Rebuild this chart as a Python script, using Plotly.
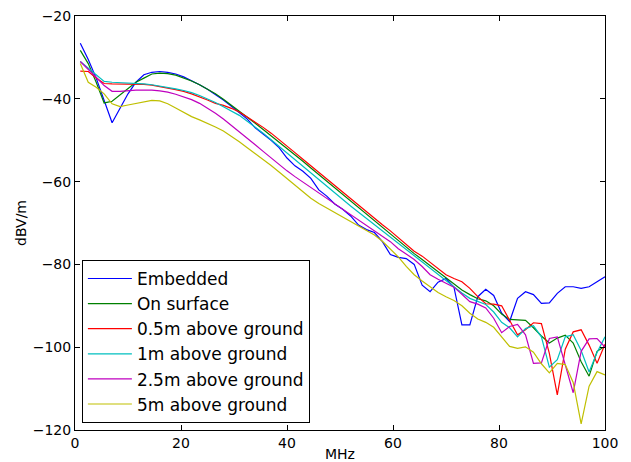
import plotly.graph_objects as go

# frequency axis (MHz)
freq = [1, 2.5, 4, 5.5, 7, 8.5, 10, 11.5, 13, 14.5,
        16, 17.5, 19, 20.5, 22, 23.5, 25, 26.5, 28, 29.5,
        31, 32.5, 34, 35.5, 37, 38.5, 40, 41.5, 43, 44.5,
        46, 47.5, 49, 50.5, 52, 53.5, 55, 56.5, 58, 59.5,
        61, 62.5, 64, 65.5, 67, 68.5, 70, 71.5, 73, 74.5,
        76, 77.5, 79, 80.5, 82, 83.5, 85, 86.5, 88, 89.5,
        91, 92.5, 94, 95.5, 97, 98.5, 100]

embedded = [-26.6, -30.5, -35.0, -40.5, -45.8, -42.3, -38.8, -36.0, -34.2, -33.6,
            -33.4, -33.6, -34.0, -34.7, -35.6, -36.6, -37.7, -38.9, -40.3, -41.8,
            -43.3, -44.9, -47.0, -48.5, -50.0, -51.8, -54.3, -56.2, -57.5, -59.2,
            -62.0, -63.5, -65.4, -66.7, -68.3, -70.5, -71.6, -72.3, -74.5, -77.6,
            -78.3, -78.6, -80.0, -85.0, -86.6, -84.3, -83.4, -85.5, -94.6, -94.6,
            -87.8, -86.0, -87.5, -91.8, -93.8, -88.2, -86.6, -87.3, -89.4, -89.3,
            -87.0, -85.4, -85.4, -85.8, -85.4, -84.2, -83.0]

on_surface = [-28.3, -31.5, -36.0, -41.0, -40.6, -39.1, -37.5, -36.0, -35.0, -34.0,
              -33.8, -33.9, -34.3, -35.0, -35.7, -36.6, -37.6, -38.8, -40.1, -41.5,
              -42.9, -44.4, -45.9, -47.4, -48.9, -50.4, -51.9, -53.5, -55.1, -56.7,
              -58.3, -59.9, -61.5, -63.1, -64.7, -66.3, -67.9, -69.5, -71.1, -72.7,
              -74.3, -75.9, -77.4, -78.8, -80.3, -81.8, -83.3, -84.8, -86.2, -87.3,
              -88.3, -88.8, -90.0, -92.0, -93.3, -93.4, -93.5, -95.3, -97.3, -99.0,
              -97.8, -97.1, -99.0, -103.5, -107.0, -101.0, -99.8]

above_05m = [-33.3, -33.4, -35.0, -36.3, -36.4, -36.4, -36.4, -36.4, -36.5, -36.7,
             -37.0, -37.4, -37.8, -38.2, -38.8, -39.5, -40.3, -41.1, -41.6, -42.3,
             -43.2, -44.4, -45.6, -46.9, -48.3, -49.8, -51.4, -53.0, -54.6, -56.2,
             -57.8, -59.4, -61.0, -62.6, -64.2, -65.8, -67.4, -68.9, -70.4, -71.9,
             -73.6, -75.2, -76.8, -78.0, -79.5, -81.0, -82.5, -83.4, -84.2, -85.8,
             -87.8, -89.5, -89.6, -90.0, -93.5, -97.0, -95.8, -94.1, -94.3, -101.5,
             -111.5, -100.5, -96.3, -95.8, -99.5, -103.9, -99.3]

above_1m = [-31.0, -32.6, -34.0, -35.8, -36.0, -36.1, -36.1, -36.2, -36.4, -36.6,
            -36.9, -37.2, -37.6, -38.0, -38.5, -39.2, -40.0, -40.9, -41.9, -42.9,
            -44.0, -45.4, -46.8, -48.3, -49.9, -51.5, -53.2, -54.9, -56.5, -58.1,
            -59.7, -61.3, -62.9, -64.4, -65.9, -67.4, -68.9, -70.4, -71.9, -73.4,
            -75.0, -76.4, -77.8, -79.3, -80.9, -82.3, -83.8, -85.4, -86.9, -88.2,
            -89.0, -89.7, -91.5, -94.0, -95.3, -97.5, -95.5, -94.8, -97.5, -104.8,
            -103.0, -97.5, -97.0, -100.8, -106.0, -101.3, -97.5]

above_25m = [-31.0, -32.8, -34.8, -36.8, -38.2, -38.2, -38.0, -37.9, -37.9, -37.9,
             -38.1, -38.4, -38.9, -39.6, -40.2, -41.1, -42.2, -43.5, -44.9, -46.4,
             -47.9, -49.5, -51.1, -52.7, -54.3, -55.9, -57.4, -58.8, -60.1, -61.4,
             -62.7, -64.0, -65.3, -66.6, -67.9, -69.2, -70.5, -71.8, -73.1, -74.5,
             -76.2, -77.5, -78.8, -80.5, -82.5, -83.6, -84.5, -85.5, -87.2, -89.0,
             -89.6, -90.5, -93.0, -96.5, -95.0, -94.5, -97.0, -103.9, -103.8, -97.9,
             -97.5, -104.0, -111.0, -101.0, -98.0, -97.9, -100.0]

above_5m = [-31.5, -36.0, -37.2, -38.8, -41.2, -41.9, -41.5, -41.1, -40.7, -40.4,
            -40.5, -41.2, -42.2, -43.3, -44.3, -45.1, -45.9, -46.8, -47.8, -49.0,
            -50.4, -51.8, -53.2, -54.6, -56.1, -57.7, -59.3, -61.0, -62.5, -64.0,
            -65.3, -66.4, -67.5, -68.6, -69.6, -70.6, -71.7, -72.9, -74.4, -76.3,
            -78.2, -80.5, -82.5, -84.0, -85.5, -86.8, -87.8, -88.7, -90.0, -91.8,
            -93.2, -94.0, -95.2, -97.5, -99.8, -100.3, -99.9, -101.2, -104.0, -106.2,
            -103.9, -104.2, -108.5, -118.5, -109.4, -105.9, -106.7]

names = ['Embedded', 'On surface', '0.5m above ground',
         '1m above ground', '2.5m above ground', '5m above ground']
series = [embedded, on_surface, above_05m, above_1m, above_25m, above_5m]
colors = ['#0000ff', '#008000', '#ff0000', '#00bfbf', '#bf00bf', '#bfbf00']

fig = go.Figure()
for name, vals, col in zip(names, series, colors):
    fig.add_trace(go.Scatter(
        x=freq, y=vals, name=name, mode='lines',
        line=dict(color=col, width=1.2),
    ))

axis_style = dict(
    showline=True, linecolor='black', linewidth=1, mirror='ticks',
    ticks='inside', ticklen=5, tickcolor='black', tickwidth=1,
    showgrid=False, zeroline=False, automargin=False,
    ticklabeloverflow='allow',
    tickfont=dict(size=14, color='black'),
)

# the page body has an 8px margin, so the figure is 8px smaller than the window
fig.update_layout(
    width=623, height=454,
    margin=dict(l=67, r=26, t=8, b=32),
    paper_bgcolor='white', plot_bgcolor='white',
    font=dict(family='DejaVu Sans', color='black'),
    xaxis=dict(range=[0, 100], tickvals=[0, 20, 40, 60, 80, 100],
               title=dict(text='MHz', font=dict(size=14), standoff=2),
               **axis_style),
    yaxis=dict(range=[-120, -20], tickvals=[-120, -100, -80, -60, -40, -20],
               title=dict(text='dBV/m', font=dict(size=14), standoff=2),
               **axis_style),
    legend=dict(x=0.013, y=0.017, xanchor='left', yanchor='bottom',
                bordercolor='black', borderwidth=1, bgcolor='white',
                font=dict(size=17), itemwidth=44, tracegroupgap=0),
    showlegend=True,
)

fig.write_html("out.html")
